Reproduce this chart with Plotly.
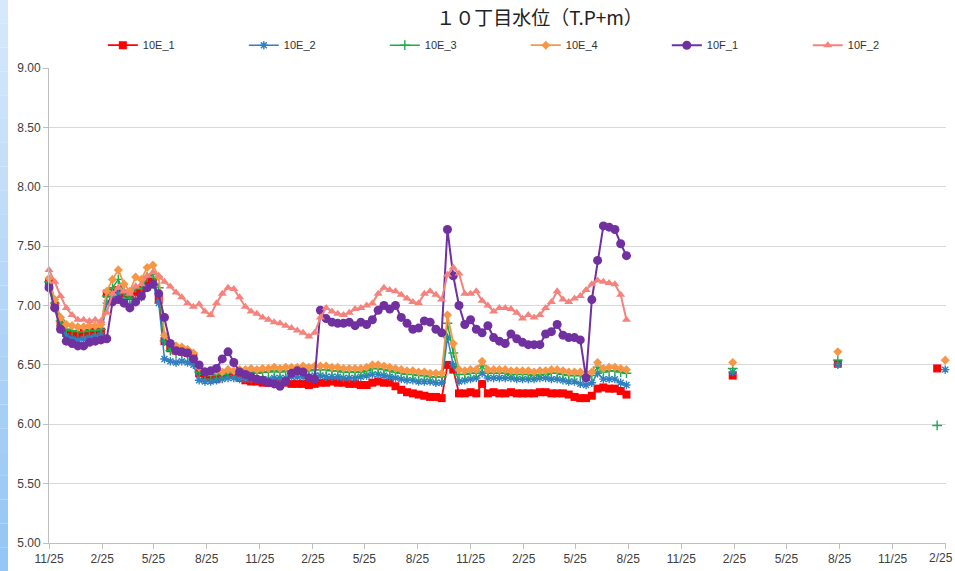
import pandas as pd
import plotly.graph_objects as go

# ---------------- data ----------------
start_date = "2012-11-25"
n_points = 101  # every 10 days
dates = list(pd.date_range(start_date, periods=n_points, freq="10D"))

e1 = [7.19, 7.00, 6.85, 6.77, 6.76, 6.75, 6.77, 6.77, 6.78, 6.78,
      7.10, 7.11, 7.13, 7.10, 7.08, 7.11, 7.13, 7.21, 7.20, 7.05,
      6.70, 6.64, 6.62, 6.61, 6.60, 6.57, 6.43, 6.41, 6.39, 6.38,
      6.42, 6.43, 6.42, 6.39, 6.37, 6.36, 6.36, 6.35, 6.35, 6.35,
      6.35, 6.35, 6.34, 6.34, 6.34, 6.33, 6.34, 6.35, 6.35, 6.36,
      6.35, 6.35, 6.34, 6.34, 6.33, 6.33, 6.35, 6.36, 6.35, 6.35,
      6.32, 6.29, 6.27, 6.26, 6.25, 6.24, 6.23, 6.23, 6.22, 6.50,
      6.46, 6.26, 6.26, 6.27, 6.26, 6.34, 6.26, 6.27, 6.26, 6.26,
      6.27, 6.26, 6.26, 6.26, 6.26, 6.27, 6.27, 6.26, 6.26, 6.26,
      6.25, 6.23, 6.22, 6.22, 6.24, 6.30, 6.31, 6.30, 6.30, 6.28,
      6.25]
e2 = [7.17, 6.98, 6.83, 6.74, 6.72, 6.71, 6.72, 6.73, 6.74, 6.75,
      7.02, 7.08, 7.10, 7.04, 7.00, 7.05, 7.07, 7.15, 7.18, 7.02,
      6.55, 6.53, 6.52, 6.53, 6.52, 6.50, 6.37, 6.36, 6.36, 6.37,
      6.38, 6.39, 6.39, 6.38, 6.38, 6.38, 6.38, 6.38, 6.38, 6.39,
      6.39, 6.39, 6.40, 6.40, 6.40, 6.40, 6.41, 6.41, 6.40, 6.40,
      6.40, 6.39, 6.39, 6.39, 6.40, 6.41, 6.42, 6.42, 6.41, 6.40,
      6.39, 6.38, 6.37, 6.37, 6.36, 6.36, 6.36, 6.35, 6.35, 6.73,
      6.50, 6.36, 6.37, 6.38, 6.39, 6.43, 6.39, 6.39, 6.39, 6.39,
      6.39, 6.38, 6.38, 6.38, 6.38, 6.39, 6.39, 6.38, 6.38, 6.37,
      6.36, 6.36, 6.34, 6.33, 6.35, 6.43, 6.38, 6.38, 6.38, 6.35,
      6.33]
e3 = [7.20, 7.02, 6.87, 6.80, 6.79, 6.78, 6.78, 6.79, 6.79, 6.80,
      7.08, 7.15, 7.22, 7.10, 7.06, 7.15, 7.14, 7.24, 7.26, 7.15,
      6.70, 6.62, 6.60, 6.60, 6.58, 6.55, 6.44, 6.42, 6.41, 6.42,
      6.42, 6.43, 6.43, 6.43, 6.43, 6.44, 6.43, 6.44, 6.44, 6.45,
      6.44, 6.45, 6.45, 6.45, 6.46, 6.45, 6.46, 6.46, 6.46, 6.45,
      6.45, 6.44, 6.44, 6.44, 6.44, 6.45, 6.47, 6.47, 6.46, 6.45,
      6.44, 6.43, 6.42, 6.42, 6.41, 6.41, 6.40, 6.40, 6.40, 6.85,
      6.60, 6.42, 6.42, 6.43, 6.43, 6.49, 6.43, 6.43, 6.43, 6.43,
      6.42, 6.42, 6.42, 6.42, 6.41, 6.42, 6.42, 6.43, 6.43, 6.42,
      6.41, 6.41, 6.41, 6.40, 6.41, 6.48, 6.44, 6.45, 6.45, 6.44,
      6.43]
e4 = [7.23, 7.05, 6.90, 6.84, 6.83, 6.82, 6.82, 6.83, 6.83, 6.84,
      7.12, 7.22, 7.30, 7.18, 7.12, 7.24, 7.22, 7.32, 7.34, 7.24,
      6.75, 6.68, 6.66, 6.65, 6.63, 6.60, 6.48, 6.45, 6.44, 6.45,
      6.44, 6.46, 6.45, 6.46, 6.46, 6.47, 6.46, 6.47, 6.47, 6.48,
      6.47, 6.48, 6.48, 6.48, 6.49, 6.48, 6.49, 6.49, 6.49, 6.48,
      6.48, 6.47, 6.47, 6.47, 6.47, 6.48, 6.50, 6.50, 6.49, 6.48,
      6.47, 6.46, 6.45, 6.45, 6.44, 6.44, 6.43, 6.43, 6.43, 6.92,
      6.68, 6.46, 6.45, 6.46, 6.46, 6.53, 6.46, 6.46, 6.46, 6.46,
      6.45, 6.45, 6.45, 6.45, 6.44, 6.45, 6.45, 6.46, 6.46, 6.45,
      6.44, 6.44, 6.44, 6.43, 6.44, 6.52, 6.47, 6.48, 6.48, 6.47,
      6.46]
f1 = [7.15, 6.98, 6.80, 6.70, 6.68, 6.66, 6.66, 6.69, 6.70, 6.71,
      6.72, 7.03, 7.05, 7.02, 6.98, 7.03, 7.08, 7.15, 7.18, 7.10,
      6.90, 6.68, 6.62, 6.61, 6.60, 6.55, 6.50, 6.44, 6.45, 6.47,
      6.55, 6.61, 6.52, 6.44, 6.42, 6.40, 6.38, 6.37, 6.35, 6.34,
      6.32, 6.36, 6.43, 6.45, 6.44, 6.39, 6.38, 6.96, 6.89, 6.86,
      6.85, 6.85, 6.86, 6.83, 6.86, 6.84, 6.88, 6.96, 7.00, 6.97,
      7.00, 6.90, 6.85, 6.80, 6.81, 6.87, 6.86, 6.80, 6.77, 7.64,
      7.25, 7.00, 6.84, 6.88, 6.80, 6.77, 6.83, 6.73, 6.70, 6.68,
      6.76, 6.72, 6.69, 6.67, 6.67, 6.67, 6.76, 6.78, 6.84, 6.75,
      6.73, 6.73, 6.71, 6.39, 7.05, 7.38, 7.67, 7.66, 7.64, 7.52,
      7.42]
f2 = [7.30, 7.20, 7.08, 6.98, 6.92, 6.88, 6.88, 6.87, 6.88, 6.87,
      6.94, 7.10, 7.15, 7.12, 7.10, 7.16, 7.18, 7.25, 7.28, 7.25,
      7.20, 7.16, 7.11, 7.07, 7.02, 6.99, 7.01, 6.95, 6.92, 7.02,
      7.10, 7.15, 7.14, 7.07, 6.99, 6.95, 6.93, 6.90, 6.88, 6.86,
      6.85, 6.83, 6.81, 6.79, 6.77, 6.74, 6.77, 6.90, 6.98, 6.95,
      6.93, 6.92, 6.94, 6.97, 6.98, 7.00, 7.02, 7.10, 7.15, 7.13,
      7.12, 7.09, 7.06, 7.03, 7.02, 7.10, 7.12, 7.09, 7.05, 7.26,
      7.32, 7.27, 7.10, 7.10, 7.12, 7.04, 7.00, 6.95, 6.98, 6.98,
      6.97, 6.94, 6.89, 6.92, 6.90, 6.92, 6.98, 7.03, 7.12, 7.05,
      7.03, 7.06, 7.08, 7.13, 7.18, 7.21, 7.20, 7.19, 7.18, 7.09,
      6.88]

# isolated later readings
extra_dates_e1 = ["2016-02-22", "2016-08-22", "2017-02-10"]
extra_e1 = [6.41, 6.51, 6.47]
extra_dates_e2 = ["2016-02-22", "2016-08-22", "2017-02-24"]
extra_e2 = [6.44, 6.50, 6.46]
extra_dates_e3 = ["2016-02-22", "2016-08-22", "2017-02-10"]
extra_e3 = [6.47, 6.54, 5.99]
extra_dates_e4 = ["2016-02-22", "2016-08-22", "2017-02-24"]
extra_e4 = [6.52, 6.61, 6.54]

series_names = ["10E_1", "10E_2", "10E_3", "10E_4", "10F_1", "10F_2"]

tick_dates = list(pd.date_range("2012-11-01", "2017-02-01", freq="3MS") + pd.Timedelta(days=24))
tick_text = [f"{d.month}/{d.day}" for d in tick_dates]
y_ticks = [5.0, 5.5, 6.0, 6.5, 7.0, 7.5, 8.0, 8.5, 9.0]
y_text = [f"{v:.2f}" for v in y_ticks]
title_text = "１０丁目水位（T.P+m）"

# ---------------- styling ----------------
styles = {
    "10E_1": dict(color="#ff0000", symbol="square", size=8, lw=1.8),
    "10E_2": dict(color="#2f7fc1", symbol="asterisk-open", size=7, lw=1.5),
    "10E_3": dict(color="#16b04a", symbol="cross-thin-open", size=7, lw=1.5),
    "10E_4": dict(color="#f79646", symbol="diamond", size=7, lw=1.8),
    "10F_1": dict(color="#7030a0", symbol="circle", size=9, lw=2),
    "10F_2": dict(color="#f4837d", symbol="triangle-up", size=8, lw=2),
}

def combine(main_vals, ex_dates, ex_vals):
    xs = list(dates)
    ys = list(main_vals)
    for d, v in zip(ex_dates, ex_vals):
        xs.append(pd.Timestamp(d) - pd.Timedelta(days=1))
        ys.append(None)
        xs.append(pd.Timestamp(d))
        ys.append(v)
    return xs, ys

data_map = {
    "10E_1": combine(e1, extra_dates_e1, extra_e1),
    "10E_2": combine(e2, extra_dates_e2, extra_e2),
    "10E_3": combine(e3, extra_dates_e3, extra_e3),
    "10E_4": combine(e4, extra_dates_e4, extra_e4),
    "10F_1": combine(f1, [], []),
    "10F_2": combine(f2, [], []),
}

fig = go.Figure()
for name in series_names:
    st = styles[name]
    xs, ys = data_map[name]
    open_sym = st["symbol"].endswith("open")
    fig.add_trace(go.Scatter(
        x=xs, y=ys, name=name, mode="lines+markers",
        connectgaps=False, cliponaxis=False,
        line=dict(color=st["color"], width=st["lw"]),
        marker=dict(symbol=st["symbol"], size=st["size"], color=st["color"],
                    line=dict(color=st["color"], width=1.4 if open_sym else 0)),
    ))

# left blue gradient band
n_band = 24
c_top = (214, 233, 252)
c_bot = (150, 198, 244)
for k in range(n_band):
    t = k / (n_band - 1)
    col = tuple(int(c_top[j] + (c_bot[j] - c_top[j]) * t) for j in range(3))
    fig.add_shape(type="rect", xref="paper", yref="paper",
                  x0=-49 / 897, x1=-41 / 897,
                  y0=1 + 68 / 475 - (k + 1) * (571 / 475) / n_band,
                  y1=1 + 68 / 475 - k * (571 / 475) / n_band,
                  fillcolor=f"rgb{col}", line_width=0, layer="below")

# last tick label sits at the right edge: draw it as right-aligned text
shown_text = tick_text[:-1] + [""]
fig.add_annotation(text=tick_text[-1], xref="paper", yref="paper",
                   x=1 + 9 / 897, xanchor="right", y=-15 / 475, yanchor="middle",
                   showarrow=False, font=dict(size=12, color="#404040"))

fig.update_layout(
    width=955, height=571,
    margin=dict(l=49, r=9, t=68, b=28, autoexpand=False),
    paper_bgcolor="white", plot_bgcolor="white",
    font=dict(family="Liberation Sans, Arial, sans-serif", size=12, color="#404040"),
    title=dict(text=title_text, x=0.565, xanchor="center", y=0.968, yanchor="middle",
               font=dict(family="Noto Sans CJK JP", size=19, color="#222222")),
    legend=dict(orientation="h", x=0.060, xanchor="left", y=1.048, yanchor="middle",
                entrywidth=96, entrywidthmode="pixels",
                font=dict(size=11, color="#333333"), bgcolor="rgba(0,0,0,0)",
                itemwidth=30),
    showlegend=True,
)
fig.update_xaxes(
    type="date", range=["2012-11-25", "2017-02-25 08:00"],
    tickvals=tick_dates, ticktext=shown_text,
    showgrid=False, showline=True, linecolor="#bfbfbf", linewidth=1,
    ticks="outside", ticklen=5, tickcolor="#bfbfbf",
    tickfont=dict(size=12, color="#404040"), zeroline=False,
)
fig.update_yaxes(
    range=[5.0, 9.0], tickvals=y_ticks, ticktext=y_text,
    showgrid=True, gridcolor="#d9d9d9", gridwidth=1,
    showline=True, linecolor="#bfbfbf", linewidth=1,
    ticks="outside", ticklen=5, tickcolor="#bfbfbf",
    tickfont=dict(size=12, color="#404040"), zeroline=False,
)

fig.write_html("out.html", config={"displayModeBar": False},
               post_script="document.body.style.margin='0px';")
